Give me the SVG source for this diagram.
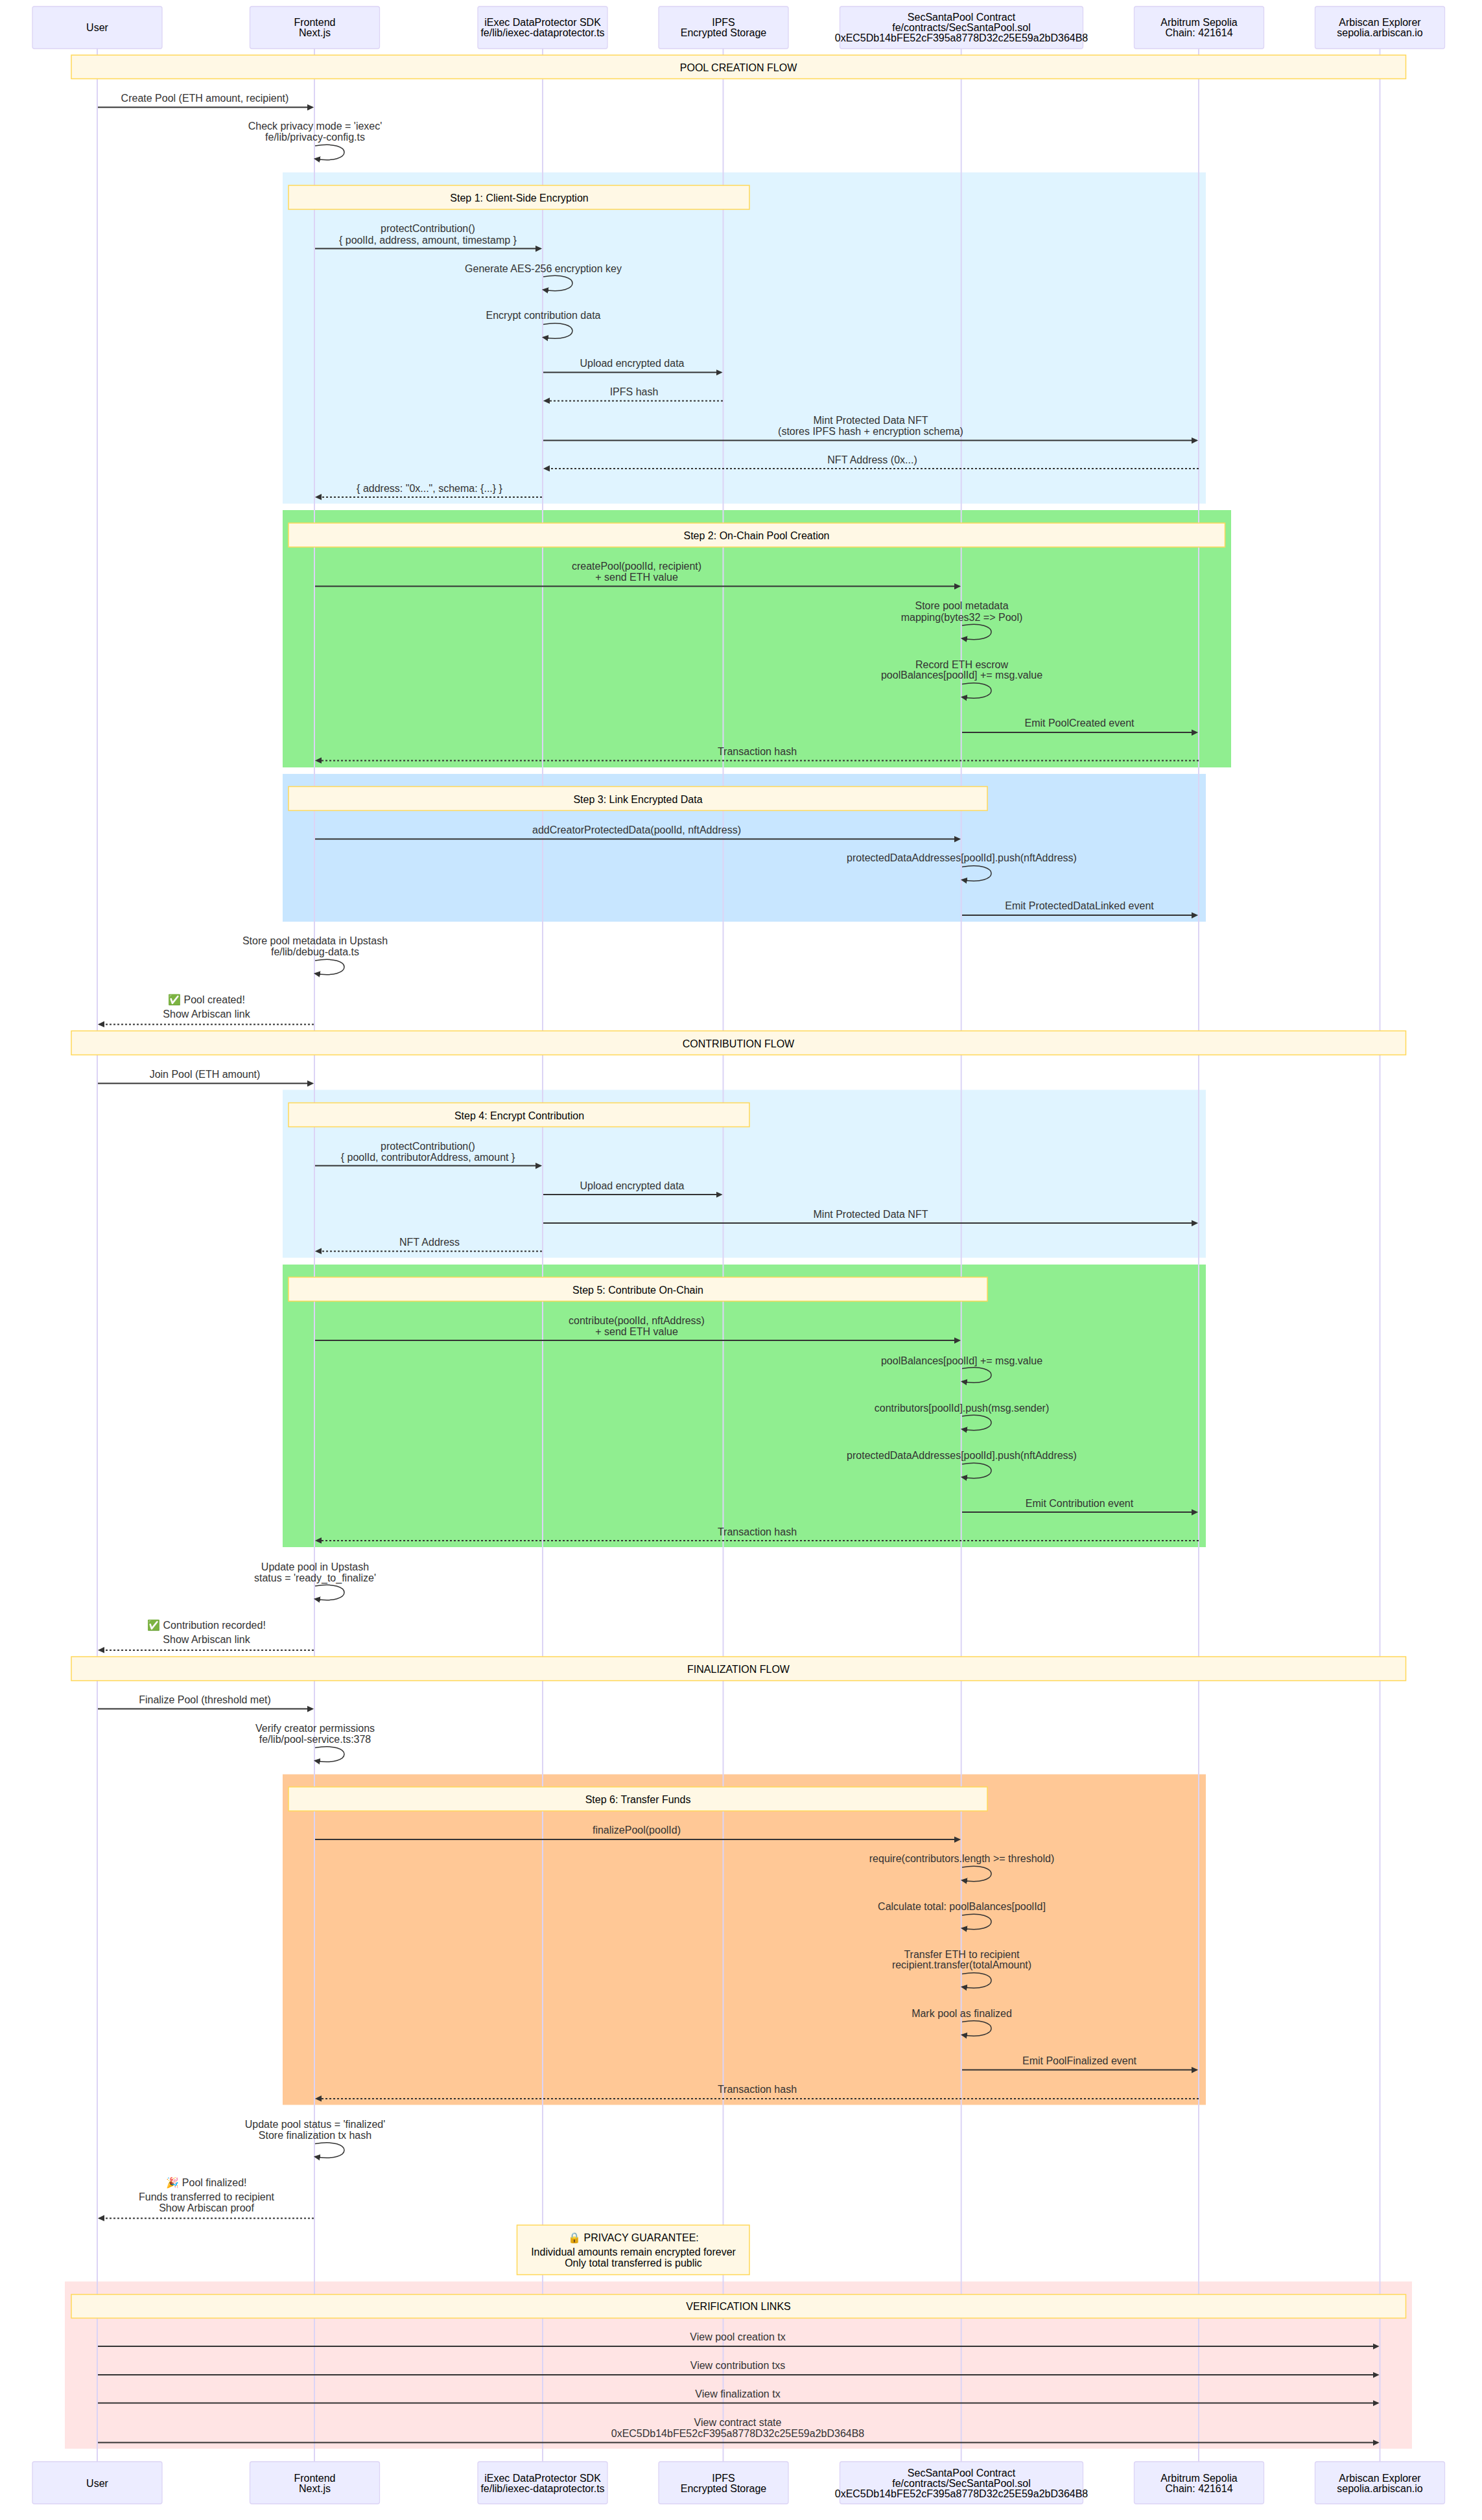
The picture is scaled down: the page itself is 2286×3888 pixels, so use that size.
<svg xmlns="http://www.w3.org/2000/svg" width="2286" height="3888" viewBox="0 0 2286 3888">
<style>
text{font-family:"Liberation Sans",Arial,"Noto Color Emoji",sans-serif;font-size:16px;text-anchor:middle}
.bg{fill:#fff}
.actor{fill:#ECECFF;stroke:#DCD4F5;stroke-width:1.3}
.actor-t{fill:#000}
.life{stroke:#DCD4F5;stroke-width:2;fill:none}
.note{fill:#FFF8E5;stroke:#FFD859;stroke-width:1.5}
.note-t{fill:#000}
.m{fill:#333}
.msg{stroke:#333;stroke-width:2;fill:none;marker-end:url(#arrow)}
.dash{stroke-dasharray:3,3}
.self{stroke:#333;stroke-width:1.5;fill:none;marker-end:url(#arrow)}
</style>
<defs>
<marker id="arrow" markerUnits="userSpaceOnUse" markerWidth="12" markerHeight="12" refX="7.9" refY="5" orient="auto"><path d="M -1 0 L 10 5 L 0 10 z" fill="#333"/></marker>
</defs>
<rect class="bg" x="0" y="0" width="2286" height="3888"/>
<g id="bands">
<rect x="436" y="266" width="1424" height="511" fill="#E0F4FF"/>
<rect x="436" y="787" width="1463" height="397" fill="#90EE90"/>
<rect x="436" y="1194" width="1424" height="228" fill="#C8E6FF"/>
<rect x="436" y="1681.5" width="1424" height="259" fill="#E0F4FF"/>
<rect x="436" y="1951" width="1424" height="436" fill="#90EE90"/>
<rect x="436" y="2737.5" width="1424" height="510" fill="#FFC896"/>
<rect x="100" y="3520" width="2078" height="258" fill="#FFE4E4"/>
</g>
<g id="lifelines">
<line class="life" x1="150" y1="75" x2="150" y2="3798"/>
<line class="life" x1="485" y1="75" x2="485" y2="3798"/>
<line class="life" x1="837" y1="75" x2="837" y2="3798"/>
<line class="life" x1="1115.5" y1="75" x2="1115.5" y2="3798"/>
<line class="life" x1="1482.7" y1="75" x2="1482.7" y2="3798"/>
<line class="life" x1="1849" y1="75" x2="1849" y2="3798"/>
<line class="life" x1="2128.5" y1="75" x2="2128.5" y2="3798"/>
</g>
<g id="actors-top">
<g id="actor-user"><rect class="actor" x="50" y="10" width="200" height="65" rx="3"/><text class="actor-t" x="150" y="48">User</text></g>
<g id="actor-frontend"><rect class="actor" x="385.5" y="10" width="200" height="65" rx="3"/><text class="actor-t" x="485.5"><tspan x="485.5" y="40">Frontend</tspan><tspan x="485.5" y="56">Next.js</tspan></text></g>
<g id="actor-sdk"><rect class="actor" x="737" y="10" width="200" height="65" rx="3"/><text class="actor-t" x="837"><tspan x="837" y="40">iExec DataProtector SDK</tspan><tspan x="837" y="56">fe/lib/iexec-dataprotector.ts</tspan></text></g>
<g id="actor-ipfs"><rect class="actor" x="1016" y="10" width="200" height="65" rx="3"/><text class="actor-t" x="1116"><tspan x="1116" y="40">IPFS</tspan><tspan x="1116" y="56">Encrypted Storage</tspan></text></g>
<g id="actor-contract"><rect class="actor" x="1295.5" y="10" width="375" height="65" rx="3"/><text class="actor-t" x="1483"><tspan x="1483" y="32">SecSantaPool Contract</tspan><tspan x="1483" y="48">fe/contracts/SecSantaPool.sol</tspan><tspan x="1483" y="64">0xEC5Db14bFE52cF395a8778D32c25E59a2bD364B8</tspan></text></g>
<g id="actor-arbitrum"><rect class="actor" x="1749.5" y="10" width="200" height="65" rx="3"/><text class="actor-t" x="1849.5"><tspan x="1849.5" y="40">Arbitrum Sepolia</tspan><tspan x="1849.5" y="56">Chain: 421614</tspan></text></g>
<g id="actor-arbiscan"><rect class="actor" x="2028.5" y="10" width="200" height="65" rx="3"/><text class="actor-t" x="2128.5"><tspan x="2128.5" y="40">Arbiscan Explorer</tspan><tspan x="2128.5" y="56">sepolia.arbiscan.io</tspan></text></g>
</g>
<g id="notes">
<g id="note-pool-flow"><rect class="note" x="110" y="85" width="2058.5" height="36.5"/><text class="note-t" x="1139" y="110">POOL CREATION FLOW</text></g>
<g id="note-step1"><rect class="note" x="445" y="286" width="711" height="37"/><text class="note-t" x="801" y="311">Step 1: Client-Side Encryption</text></g>
<g id="note-step2"><rect class="note" x="445" y="807" width="1444.5" height="37"/><text class="note-t" x="1167" y="832">Step 2: On-Chain Pool Creation</text></g>
<g id="note-step3"><rect class="note" x="445" y="1213.5" width="1078" height="37"/><text class="note-t" x="984" y="1239">Step 3: Link Encrypted Data</text></g>
<g id="note-contribution-flow"><rect class="note" x="110" y="1590.5" width="2058.5" height="37"/><text class="note-t" x="1139" y="1616">CONTRIBUTION FLOW</text></g>
<g id="note-step4"><rect class="note" x="445" y="1701.5" width="711" height="37"/><text class="note-t" x="801" y="1727">Step 4: Encrypt Contribution</text></g>
<g id="note-step5"><rect class="note" x="445" y="1970.5" width="1078" height="37"/><text class="note-t" x="984" y="1996">Step 5: Contribute On-Chain</text></g>
<g id="note-finalization-flow"><rect class="note" x="110" y="2556" width="2058.5" height="37"/><text class="note-t" x="1139" y="2581">FINALIZATION FLOW</text></g>
<g id="note-step6"><rect class="note" x="445" y="2757" width="1078" height="37"/><text class="note-t" x="984" y="2782">Step 6: Transfer Funds</text></g>
<g id="note-privacy"><rect class="note" x="797.5" y="3433" width="358.5" height="76.5"/><text class="note-t" x="977"><tspan x="977" y="3458">🔒 PRIVACY GUARANTEE:</tspan><tspan x="977" y="3480">Individual amounts remain encrypted forever</tspan><tspan x="977" y="3497">Only total transferred is public</tspan></text></g>
<g id="note-verification"><rect class="note" x="110" y="3540" width="2058.5" height="36.5"/><text class="note-t" x="1139" y="3564">VERIFICATION LINKS</text></g>
</g>
<g id="connectors">
<line class="msg" x1="151" y1="165.5" x2="482" y2="165.5"/>
<path class="self" d="M486,225 C546,215 546,255 486,245"/>
<line class="msg" x1="486" y1="383.5" x2="834" y2="383.5"/>
<path class="self" d="M838,427 C898,417 898,457 838,447"/>
<path class="self" d="M838,500.5 C898,490.5 898,530.5 838,520.5"/>
<line class="msg" x1="838" y1="574.5" x2="1112.5" y2="574.5"/>
<line class="msg dash" x1="1115" y1="618.5" x2="840" y2="618.5"/>
<line class="msg" x1="838" y1="679.5" x2="1846" y2="679.5"/>
<line class="msg dash" x1="1849" y1="723" x2="840" y2="723"/>
<line class="msg dash" x1="836" y1="767" x2="488" y2="767"/>
<line class="msg" x1="486" y1="904.5" x2="1480" y2="904.5"/>
<path class="self" d="M1484,965 C1544,955 1544,995 1484,985"/>
<path class="self" d="M1484,1055.5 C1544,1045.5 1544,1085.5 1484,1075.5"/>
<line class="msg" x1="1484" y1="1130" x2="1846" y2="1130"/>
<line class="msg dash" x1="1849" y1="1173.5" x2="488" y2="1173.5"/>
<line class="msg" x1="486" y1="1294.5" x2="1480" y2="1294.5"/>
<path class="self" d="M1484,1337.5 C1544,1327.5 1544,1367.5 1484,1357.5"/>
<line class="msg" x1="1484" y1="1412" x2="1846" y2="1412"/>
<path class="self" d="M486,1482 C546,1472 546,1512 486,1502"/>
<line class="msg dash" x1="484" y1="1580.5" x2="153" y2="1580.5"/>
<line class="msg" x1="151" y1="1671.5" x2="482" y2="1671.5"/>
<line class="msg" x1="486" y1="1798.5" x2="834" y2="1798.5"/>
<line class="msg" x1="838" y1="1843" x2="1112.5" y2="1843"/>
<line class="msg" x1="838" y1="1887" x2="1846" y2="1887"/>
<line class="msg dash" x1="836" y1="1930.5" x2="488" y2="1930.5"/>
<line class="msg" x1="486" y1="2068" x2="1480" y2="2068"/>
<path class="self" d="M1484,2111.5 C1544,2101.5 1544,2141.5 1484,2131.5"/>
<path class="self" d="M1484,2185 C1544,2175 1544,2215 1484,2205"/>
<path class="self" d="M1484,2259 C1544,2249 1544,2289 1484,2279"/>
<line class="msg" x1="1484" y1="2333" x2="1846" y2="2333"/>
<line class="msg dash" x1="1849" y1="2377" x2="488" y2="2377"/>
<path class="self" d="M486,2447 C546,2437 546,2477 486,2467"/>
<line class="msg dash" x1="484" y1="2546" x2="153" y2="2546"/>
<line class="msg" x1="151" y1="2636.5" x2="482" y2="2636.5"/>
<path class="self" d="M486,2696.5 C546,2686.5 546,2726.5 486,2716.5"/>
<line class="msg" x1="486" y1="2838" x2="1480" y2="2838"/>
<path class="self" d="M1484,2881 C1544,2871 1544,2911 1484,2901"/>
<path class="self" d="M1484,2955 C1544,2945 1544,2985 1484,2975"/>
<path class="self" d="M1484,3045.5 C1544,3035.5 1544,3075.5 1484,3065.5"/>
<path class="self" d="M1484,3119.5 C1544,3109.5 1544,3149.5 1484,3139.5"/>
<line class="msg" x1="1484" y1="3193.5" x2="1846" y2="3193.5"/>
<line class="msg dash" x1="1849" y1="3238" x2="488" y2="3238"/>
<path class="self" d="M486,3307.5 C546,3297.5 546,3337.5 486,3327.5"/>
<line class="msg dash" x1="484" y1="3422.5" x2="153" y2="3422.5"/>
<line class="msg" x1="151" y1="3620" x2="2125.5" y2="3620"/>
<line class="msg" x1="151" y1="3664" x2="2125.5" y2="3664"/>
<line class="msg" x1="151" y1="3707.5" x2="2125.5" y2="3707.5"/>
<line class="msg" x1="151" y1="3768.5" x2="2125.5" y2="3768.5"/>
</g>
<g id="message-labels">
<text class="m" x="316" y="157">Create Pool (ETH amount, recipient)</text>
<text class="m" x="486"><tspan x="486" y="200">Check privacy mode = 'iexec'</tspan><tspan x="486" y="217">fe/lib/privacy-config.ts</tspan></text>
<text class="m" x="660"><tspan x="660" y="358">protectContribution()</tspan><tspan x="660" y="375.5">{ poolId, address, amount, timestamp }</tspan></text>
<text class="m" x="838" y="419.5">Generate AES-256 encryption key</text>
<text class="m" x="838" y="492">Encrypt contribution data</text>
<text class="m" x="975" y="566">Upload encrypted data</text>
<text class="m" x="978" y="610">IPFS hash</text>
<text class="m" x="1343"><tspan x="1343" y="654">Mint Protected Data NFT</tspan><tspan x="1343" y="671">(stores IPFS hash + encryption schema)</tspan></text>
<text class="m" x="1345.5" y="715">NFT Address (0x...)</text>
<text class="m" x="662.5" y="758.5">{ address: "0x...", schema: {...} }</text>
<text class="m" x="982"><tspan x="982" y="879">createPool(poolId, recipient)</tspan><tspan x="982" y="896">+ send ETH value</tspan></text>
<text class="m" x="1483.5"><tspan x="1483.5" y="940">Store pool metadata</tspan><tspan x="1483.5" y="957.5">mapping(bytes32 =&gt; Pool)</tspan></text>
<text class="m" x="1483.5"><tspan x="1483.5" y="1031">Record ETH escrow</tspan><tspan x="1483.5" y="1047">poolBalances[poolId] += msg.value</tspan></text>
<text class="m" x="1665" y="1120.5">Emit PoolCreated event</text>
<text class="m" x="1168" y="1165">Transaction hash</text>
<text class="m" x="982" y="1286">addCreatorProtectedData(poolId, nftAddress)</text>
<text class="m" x="1483.5" y="1329">protectedDataAddresses[poolId].push(nftAddress)</text>
<text class="m" x="1665" y="1403">Emit ProtectedDataLinked event</text>
<text class="m" x="486"><tspan x="486" y="1457">Store pool metadata in Upstash</tspan><tspan x="486" y="1474">fe/lib/debug-data.ts</tspan></text>
<text class="m" x="318.5"><tspan x="318.5" y="1548">✅ Pool created!</tspan><tspan x="318.5" y="1570">Show Arbiscan link</tspan></text>
<text class="m" x="316" y="1663">Join Pool (ETH amount)</text>
<text class="m" x="660"><tspan x="660" y="1774">protectContribution()</tspan><tspan x="660" y="1791">{ poolId, contributorAddress, amount }</tspan></text>
<text class="m" x="975" y="1835">Upload encrypted data</text>
<text class="m" x="1343" y="1879">Mint Protected Data NFT</text>
<text class="m" x="662.5" y="1922">NFT Address</text>
<text class="m" x="982"><tspan x="982" y="2043">contribute(poolId, nftAddress)</tspan><tspan x="982" y="2060">+ send ETH value</tspan></text>
<text class="m" x="1483.5" y="2104.5">poolBalances[poolId] += msg.value</text>
<text class="m" x="1483.5" y="2177.5">contributors[poolId].push(msg.sender)</text>
<text class="m" x="1483.5" y="2251">protectedDataAddresses[poolId].push(nftAddress)</text>
<text class="m" x="1665" y="2324.5">Emit Contribution event</text>
<text class="m" x="1168" y="2369">Transaction hash</text>
<text class="m" x="486"><tspan x="486" y="2423">Update pool in Upstash</tspan><tspan x="486" y="2440">status = 'ready_to_finalize'</tspan></text>
<text class="m" x="318.5"><tspan x="318.5" y="2513">✅ Contribution recorded!</tspan><tspan x="318.5" y="2535">Show Arbiscan link</tspan></text>
<text class="m" x="316" y="2628">Finalize Pool (threshold met)</text>
<text class="m" x="486"><tspan x="486" y="2672">Verify creator permissions</tspan><tspan x="486" y="2689">fe/lib/pool-service.ts:378</tspan></text>
<text class="m" x="982" y="2829">finalizePool(poolId)</text>
<text class="m" x="1483.5" y="2873">require(contributors.length &gt;= threshold)</text>
<text class="m" x="1483.5" y="2947">Calculate total: poolBalances[poolId]</text>
<text class="m" x="1483.5"><tspan x="1483.5" y="3021">Transfer ETH to recipient</tspan><tspan x="1483.5" y="3037">recipient.transfer(totalAmount)</tspan></text>
<text class="m" x="1483.5" y="3111.5">Mark pool as finalized</text>
<text class="m" x="1665" y="3185">Emit PoolFinalized event</text>
<text class="m" x="1168" y="3229">Transaction hash</text>
<text class="m" x="486"><tspan x="486" y="3283">Update pool status = 'finalized'</tspan><tspan x="486" y="3300">Store finalization tx hash</tspan></text>
<text class="m" x="318.5"><tspan x="318.5" y="3372.5">🎉 Pool finalized!</tspan><tspan x="318.5" y="3395">Funds transferred to recipient</tspan><tspan x="318.5" y="3412">Show Arbiscan proof</tspan></text>
<text class="m" x="1138" y="3611">View pool creation tx</text>
<text class="m" x="1138" y="3655">View contribution txs</text>
<text class="m" x="1138" y="3699">View finalization tx</text>
<text class="m" x="1138"><tspan x="1138" y="3743">View contract state</tspan><tspan x="1138" y="3760">0xEC5Db14bFE52cF395a8778D32c25E59a2bD364B8</tspan></text>
</g>
<g id="actors-bottom">
<g id="actor-user-b"><rect class="actor" x="50" y="3798" width="200" height="65" rx="3"/><text class="actor-t" x="150" y="3837">User</text></g>
<g id="actor-frontend-b"><rect class="actor" x="385.5" y="3798" width="200" height="65" rx="3"/><text class="actor-t" x="485.5"><tspan x="485.5" y="3829">Frontend</tspan><tspan x="485.5" y="3845">Next.js</tspan></text></g>
<g id="actor-sdk-b"><rect class="actor" x="737" y="3798" width="200" height="65" rx="3"/><text class="actor-t" x="837"><tspan x="837" y="3829">iExec DataProtector SDK</tspan><tspan x="837" y="3845">fe/lib/iexec-dataprotector.ts</tspan></text></g>
<g id="actor-ipfs-b"><rect class="actor" x="1016" y="3798" width="200" height="65" rx="3"/><text class="actor-t" x="1116"><tspan x="1116" y="3829">IPFS</tspan><tspan x="1116" y="3845">Encrypted Storage</tspan></text></g>
<g id="actor-contract-b"><rect class="actor" x="1295.5" y="3798" width="375" height="65" rx="3"/><text class="actor-t" x="1483"><tspan x="1483" y="3821">SecSantaPool Contract</tspan><tspan x="1483" y="3837">fe/contracts/SecSantaPool.sol</tspan><tspan x="1483" y="3853">0xEC5Db14bFE52cF395a8778D32c25E59a2bD364B8</tspan></text></g>
<g id="actor-arbitrum-b"><rect class="actor" x="1749.5" y="3798" width="200" height="65" rx="3"/><text class="actor-t" x="1849.5"><tspan x="1849.5" y="3829">Arbitrum Sepolia</tspan><tspan x="1849.5" y="3845">Chain: 421614</tspan></text></g>
<g id="actor-arbiscan-b"><rect class="actor" x="2028.5" y="3798" width="200" height="65" rx="3"/><text class="actor-t" x="2128.5"><tspan x="2128.5" y="3829">Arbiscan Explorer</tspan><tspan x="2128.5" y="3845">sepolia.arbiscan.io</tspan></text></g>
</g>
</svg>
